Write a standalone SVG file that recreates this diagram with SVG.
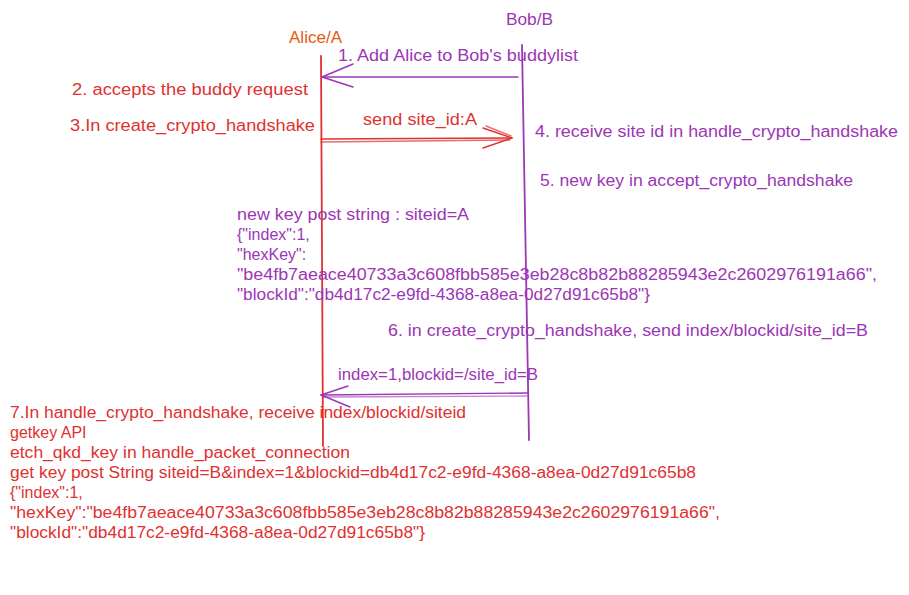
<svg xmlns="http://www.w3.org/2000/svg" width="909" height="595" viewBox="0 0 909 595">
<style>
  text { font-family: "Liberation Sans", "DejaVu Sans", sans-serif; font-size: 16px; }
  .red { fill: #e03131; }
  .purple { fill: #9c36b5; }
  .orange { fill: #e8590c; }
  .life-red { stroke: #e03131; stroke-width: 1.8; fill: none; stroke-linecap: round; }
  .life-purple { stroke: #9c36b5; stroke-width: 1.8; fill: none; stroke-linecap: round; }
  .arr-red { stroke: #e03131; stroke-width: 1.4; fill: none; stroke-linecap: round; stroke-linejoin: round; }
  .arr-purple { stroke: #9c36b5; stroke-width: 1.4; fill: none; stroke-linecap: round; stroke-linejoin: round; }
</style>
<rect width="909" height="595" fill="#ffffff"/>

<g id="alice">
  <text class="orange" x="289" y="43" textLength="53" lengthAdjust="spacingAndGlyphs">Alice/A</text>
  <path class="life-red" d="M321 56 L323 446"/>
</g>

<g id="bob">
  <text class="purple" x="506" y="25" textLength="47" lengthAdjust="spacingAndGlyphs">Bob/B</text>
  <path class="life-purple" d="M522 45 L529 440"/>
</g>

<g id="connectors">
  <g id="msg1">
    <path class="arr-purple" d="M518 77 L322 77"/>
    <path class="arr-purple" d="M353 64 L322 77 L353 87"/>
  </g>
  <g id="msg3">
    <path class="arr-red" d="M321 139 L512 138"/>
    <path class="arr-red" d="M321 142 L510 140" opacity="0.7"/>
    <path class="arr-red" d="M483 128 L512 138 L483 148"/>
    <path class="arr-red" d="M486 126 L511 136" opacity="0.7"/>
  </g>
  <g id="msg6">
    <path class="arr-purple" d="M528 393 L321 395"/>
    <path class="arr-purple" d="M527 396 L323 397" opacity="0.6"/>
    <path class="arr-purple" d="M348 386 L321 395 L350 407"/>
  </g>
</g>

<g id="label-msg1">
  <text class="purple" x="338" y="61" textLength="240" lengthAdjust="spacingAndGlyphs">1. Add Alice to Bob's buddylist</text>
</g>
<g id="step2">
  <text class="red" x="72" y="95" textLength="236" lengthAdjust="spacingAndGlyphs">2. accepts the buddy request</text>
</g>
<g id="step3">
  <text class="red" x="70" y="131" textLength="245" lengthAdjust="spacingAndGlyphs">3.In create_crypto_handshake</text>
</g>
<g id="label-msg3">
  <text class="red" x="363" y="125" textLength="114" lengthAdjust="spacingAndGlyphs">send site_id:A</text>
</g>
<g id="step4">
  <text class="purple" x="535" y="137" textLength="363" lengthAdjust="spacingAndGlyphs">4. receive site id in handle_crypto_handshake</text>
</g>
<g id="step5">
  <text class="purple" x="540" y="186" textLength="313" lengthAdjust="spacingAndGlyphs">5. new key in accept_crypto_handshake</text>
</g>
<g id="newkey-note">
  <text class="purple" x="237" y="220" textLength="232" lengthAdjust="spacingAndGlyphs">new key post string : siteid=A</text>
  <text class="purple" x="237" y="240">{"index":1,</text>
  <text class="purple" x="237" y="260">"hexKey":</text>
  <text class="purple" x="237" y="280" textLength="640" lengthAdjust="spacingAndGlyphs">"be4fb7aeace40733a3c608fbb585e3eb28c8b82b88285943e2c2602976191a66",</text>
  <text class="purple" x="237" y="300" textLength="413" lengthAdjust="spacingAndGlyphs">"blockId":"db4d17c2-e9fd-4368-a8ea-0d27d91c65b8"}</text>
</g>
<g id="step6">
  <text class="purple" x="388" y="336" textLength="480" lengthAdjust="spacingAndGlyphs">6. in create_crypto_handshake, send index/blockid/site_id=B</text>
</g>
<g id="label-msg6">
  <text class="purple" x="338" y="380" textLength="200" lengthAdjust="spacingAndGlyphs">index=1,blockid=/site_id=B</text>
</g>
<g id="step7-note">
  <text class="red" x="10" y="418" textLength="456" lengthAdjust="spacingAndGlyphs">7.In handle_crypto_handshake, receive index/blockid/siteid</text>
  <text class="red" x="10" y="438">getkey API</text>
  <text class="red" x="10" y="458" textLength="340" lengthAdjust="spacingAndGlyphs">etch_qkd_key in handle_packet_connection</text>
  <text class="red" x="10" y="478" textLength="686" lengthAdjust="spacingAndGlyphs">get key post String siteid=B&amp;index=1&amp;blockid=db4d17c2-e9fd-4368-a8ea-0d27d91c65b8</text>
  <text class="red" x="10" y="498">{"index":1,</text>
  <text class="red" x="10" y="518" textLength="710" lengthAdjust="spacingAndGlyphs">"hexKey":"be4fb7aeace40733a3c608fbb585e3eb28c8b82b88285943e2c2602976191a66",</text>
  <text class="red" x="10" y="538" textLength="415" lengthAdjust="spacingAndGlyphs">"blockId":"db4d17c2-e9fd-4368-a8ea-0d27d91c65b8"}</text>
</g>
</svg>
